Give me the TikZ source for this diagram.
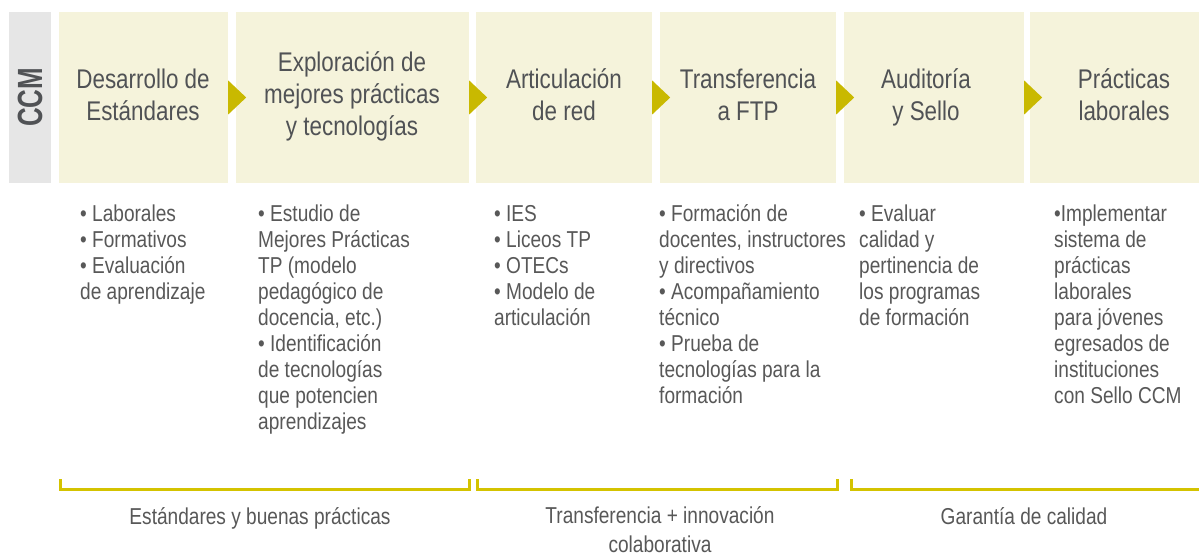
\documentclass[tikz,border=0pt]{standalone}
\usepackage{fontspec}
\setmainfont{Liberation Sans}[FakeStretch=0.83]
\newfontfamily\ccmfont{Liberation Sans}[FakeStretch=0.74]
\definecolor{boxc}{HTML}{F5F3DB}
\definecolor{grayc}{HTML}{E6E6E6}
\definecolor{arrowc}{HTML}{C9B900}
\definecolor{bracketc}{HTML}{D4C300}
\definecolor{titlec}{HTML}{505255}
\definecolor{bodyc}{HTML}{585858}
\tikzset{
  stagebox/.style={fill=boxc, draw=none, inner sep=0pt, minimum height=171pt},
  titletext/.style={anchor=base, align=center, inner sep=0pt, text=titlec,
    font=\fontsize{27}{32}\selectfont},
  bodytext/.style={anchor=base west, align=left, inner sep=0pt, text=bodyc,
    font=\fontsize{23}{26}\selectfont},
  labeltext/.style={anchor=base, align=center, inner sep=0pt, text=bodyc,
    font=\fontsize{23}{29}\selectfont},
  bracketline/.style={draw=bracketc, line width=3pt},
  arrowtri/.style={fill=arrowc}
}
\begin{document}
\begin{tikzpicture}[x=1pt,y=-1pt]
\useasboundingbox (0,0) rectangle (1199,556);
\fill[white] (0,0) rectangle (1199,556);

% CCM label box
\node[fill=grayc, inner sep=0pt, minimum width=42pt, minimum height=171pt] (ccm) at (30,97.5) {};
\node[rotate=90, inner sep=0pt, text=titlec, font=\ccmfont\bfseries\fontsize{35}{35}\selectfont] (ccmtext) at (30,97.5) {CCM};

% stage boxes
\node[stagebox, minimum width=169pt] (b1) at (143.5,97.5) {};
\node[stagebox, minimum width=233pt] (b2) at (352.5,97.5) {};
\node[stagebox, minimum width=176pt] (b3) at (564,97.5) {};
\node[stagebox, minimum width=176pt] (b4) at (748,97.5) {};
\node[stagebox, minimum width=180pt] (b5) at (934,97.5) {};
\node[stagebox, minimum width=169pt] (b6) at (1114.5,97.5) {};

% arrows
\foreach \b in {b1,b2,b3,b4,b5}{
  \fill[arrowtri] ([yshift=-17pt]\b.east) -- ([xshift=18pt]\b.east) -- ([yshift=17pt]\b.east) -- cycle;
}

% titles (anchor = baseline of last line)
\node[titletext] (t1) at (143,121) {Desarrollo de\\Estándares};
\node[titletext] (t2) at (352,136) {Exploración de\\mejores prácticas\\y tecnologías};
\node[titletext] (t3) at (564,121) {Articulación\\de red};
\node[titletext] (t4) at (748,121) {Transferencia\\a FTP};
\node[titletext] (t5) at (926,121) {Auditoría\\y Sello};
\node[titletext] (t6) at (1124,121) {Prácticas\\laborales};

% body texts (anchor = baseline of last line)
\node[bodytext] (d1) at (80,299) {• Laborales\\• Formativos\\• Evaluación\\de aprendizaje};
\node[bodytext] (d2) at (258,429) {• Estudio de\\Mejores Prácticas\\TP (modelo\\pedagógico de\\docencia, etc.)\\• Identificación\\de tecnologías\\que potencien\\aprendizajes};
\node[bodytext] (d3) at (494,325) {• IES\\• Liceos TP\\• OTECs\\• Modelo de\\articulación};
\node[bodytext] (d4) at (659,403) {• Formación de\\docentes, instructores\\y directivos\\• Acompañamiento\\técnico\\• Prueba de\\tecnologías para la\\formación};
\node[bodytext] (d5) at (859,325) {• Evaluar\\calidad y\\pertinencia de\\los programas\\de formación};
\node[bodytext] (d6) at (1054,403) {•Implementar\\sistema de\\prácticas\\laborales\\para jóvenes\\egresados de\\instituciones\\con Sello CCM};

% brackets
\draw[bracketline] (60,479) -- (60,489) -- (469,489) -- (469,479);
\draw[bracketline] (477,479) -- (477,489) -- (837,489) -- (837,479);
\draw[bracketline] (851,479) -- (851,489) -- (1199,489);

% bracket labels
\node[labeltext] (l1) at (260,524) {Estándares y buenas prácticas};
\node[labeltext] (l2) at (660,552) {Transferencia + innovación\\colaborativa};
\node[labeltext] (l3) at (1024,524) {Garantía de calidad};
\end{tikzpicture}
\end{document}
